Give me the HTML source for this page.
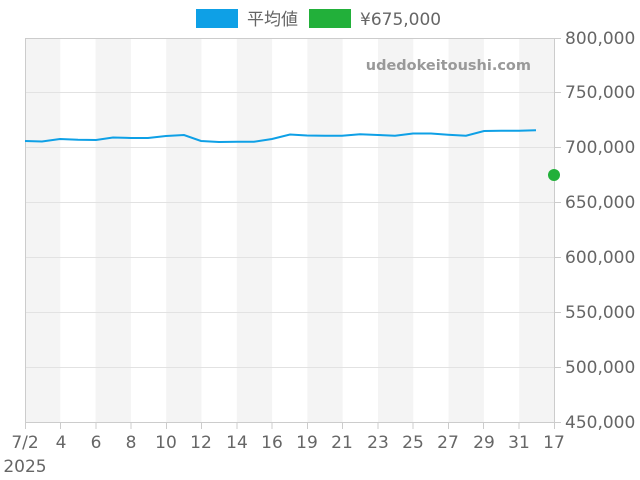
<!DOCTYPE html>
<html><head><style>body{margin:0;background:#fff}svg{display:block}text{font-family:"DejaVu Sans","Noto Sans CJK JP",sans-serif;fill:#666;font-size:17px}</style></head><body>
<svg width="640" height="480" xmlns="http://www.w3.org/2000/svg">
<g fill="#f4f4f4">
<rect x="25" y="38" width="35.3" height="384"/><rect x="95.6" y="38" width="35.3" height="384"/><rect x="166.2" y="38" width="35.3" height="384"/><rect x="236.8" y="38" width="35.3" height="384"/><rect x="307.4" y="38" width="35.3" height="384"/><rect x="378" y="38" width="35.3" height="384"/><rect x="448.6" y="38" width="35.3" height="384"/><rect x="519.2" y="38" width="35.3" height="384"/>
</g>
<g stroke="#e2e2e2" stroke-width="1">
<line x1="25" x2="554" y1="92.5" y2="92.5"/><line x1="25" x2="554" y1="147.5" y2="147.5"/><line x1="25" x2="554" y1="202.5" y2="202.5"/><line x1="25" x2="554" y1="257.5" y2="257.5"/><line x1="25" x2="554" y1="312.5" y2="312.5"/><line x1="25" x2="554" y1="367.5" y2="367.5"/>
</g>
<rect x="25.5" y="38.5" width="529" height="384" fill="none" stroke="#ccc"/>
<g stroke="#ccc">
<line x1="25.5" x2="25.5" y1="422" y2="429"/><line x1="60.5" x2="60.5" y1="422" y2="429"/><line x1="96" x2="96" y1="422" y2="429"/><line x1="131" x2="131" y1="422" y2="429"/><line x1="166.5" x2="166.5" y1="422" y2="429"/><line x1="201.5" x2="201.5" y1="422" y2="429"/><line x1="237" x2="237" y1="422" y2="429"/><line x1="272" x2="272" y1="422" y2="429"/><line x1="307.5" x2="307.5" y1="422" y2="429"/><line x1="342.5" x2="342.5" y1="422" y2="429"/><line x1="378" x2="378" y1="422" y2="429"/><line x1="413" x2="413" y1="422" y2="429"/><line x1="448.5" x2="448.5" y1="422" y2="429"/><line x1="483.5" x2="483.5" y1="422" y2="429"/><line x1="519" x2="519" y1="422" y2="429"/><line x1="554.5" x2="554.5" y1="422" y2="429"/>
<line x1="554" x2="561" y1="38.5" y2="38.5"/><line x1="554" x2="561" y1="92.5" y2="92.5"/><line x1="554" x2="561" y1="147.5" y2="147.5"/><line x1="554" x2="561" y1="202.5" y2="202.5"/><line x1="554" x2="561" y1="257.5" y2="257.5"/><line x1="554" x2="561" y1="312.5" y2="312.5"/><line x1="554" x2="561" y1="367.5" y2="367.5"/><line x1="554" x2="561" y1="422.5" y2="422.5"/>
</g>
<text x="531" y="70" text-anchor="end" style="font-size:14.5px;font-weight:bold;fill:#999">udedokeitoushi.com</text>
<polyline fill="none" stroke="#0ea0e6" stroke-width="2" points="25,141 42,141.5 60,139 78,139.7 96,140 113,137.5 131,138 148,138 166,136 184,135 201,141 219,142 237,141.7 254,141.7 272,139 290,134.5 307,135.5 325,135.7 342,135.7 360,134.3 378,135 395,135.7 413,133.5 431,133.5 448,134.7 466,135.7 484,131 501,130.8 519,130.8 536,130.3"/>
<circle cx="554" cy="175" r="6" fill="#22b03a"/>
<rect x="196" y="9" width="42" height="19" fill="#0ea0e6"/>
<text x="247" y="25">平均値</text>
<rect x="309" y="9" width="42" height="19" fill="#22b03a"/>
<text x="360" y="25">¥675,000</text>
<g text-anchor="start">
<text x="565" y="44">800,000</text><text x="565" y="98">750,000</text><text x="565" y="153">700,000</text><text x="565" y="208">650,000</text><text x="565" y="263">600,000</text><text x="565" y="318">550,000</text><text x="565" y="373">500,000</text><text x="565" y="428">450,000</text>
</g>
<g text-anchor="middle">
<text x="25" y="448">7/2</text><text x="61" y="448">4</text><text x="96" y="448">6</text><text x="131" y="448">8</text><text x="166" y="448">10</text><text x="201" y="448">12</text><text x="237" y="448">14</text><text x="272" y="448">16</text><text x="307" y="448">19</text><text x="342" y="448">21</text><text x="378" y="448">23</text><text x="413" y="448">25</text><text x="448" y="448">27</text><text x="484" y="448">29</text><text x="519" y="448">31</text><text x="554" y="448">17</text>
<text x="25" y="472">2025</text>
</g>
</svg>
</body></html>
